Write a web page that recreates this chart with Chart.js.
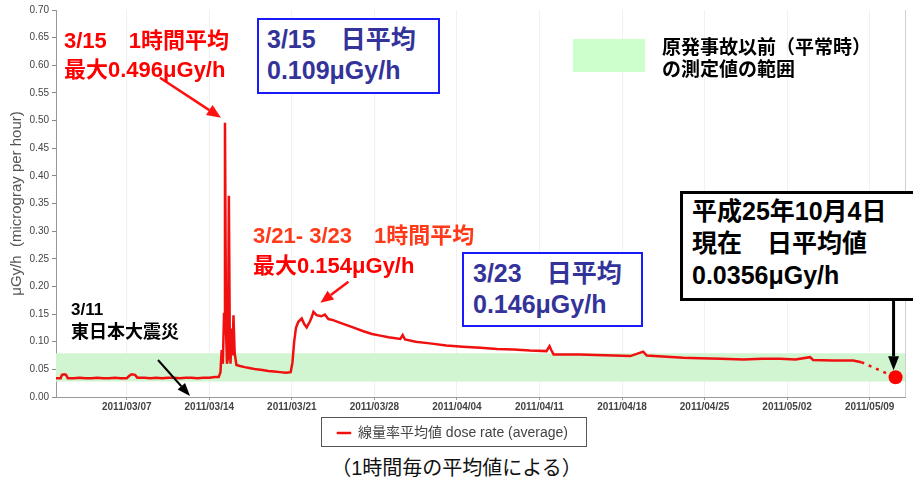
<!DOCTYPE html>
<html><head><meta charset="utf-8">
<script src="https://cdn.jsdelivr.net/npm/chart.js@4/dist/chart.umd.min.js"></script>
<style>
html,body{margin:0;padding:0;background:#fff;overflow:hidden;}
#wrap{position:relative;width:913px;height:488px;overflow:hidden;font-family:'Liberation Sans','Noto Sans CJK JP',sans-serif;}
#c{position:absolute;left:0;top:0;}
.a{position:absolute;white-space:nowrap;font-weight:bold;}
.red{color:#ff0000;font-size:22px;line-height:29px;}
.bbox{box-sizing:border-box;border:2px solid #1a1aff;color:#333399;font-size:25px;line-height:31px;background:#fff;}
.kbox{box-sizing:border-box;border:3px solid #000;border-right:none;color:#000;font-size:25px;line-height:32px;background:#fff;}
</style></head>
<body><div id="wrap">
<canvas id="c" width="913" height="450"></canvas>
<div class="a red" style="left:64px;top:26px;">3/15　1時間平均<br>最大0.496μGy/h</div>
<div class="a bbox" style="left:257px;top:18px;width:183px;height:76px;padding:4px 0 0 8px;">3/15　日平均<br>0.109μGy/h</div>
<div class="a" style="left:573px;top:39px;width:72px;height:33px;background:#ccffcc;"></div>
<div class="a" style="left:662px;top:37px;font-size:19px;line-height:22px;color:#000;">原発事故以前（平常時）<br>の測定値の範囲</div>
<div class="a red" style="left:253px;top:221px;line-height:30px;"><span style="color:#ff3a1a">3/21- 3/23　1時間平均</span><br>最大0.154μGy/h</div>
<div class="a bbox" style="left:462px;top:252px;width:181px;height:75px;padding:4px 0 0 9px;">3/23　日平均<br>0.146μGy/h</div>
<div class="a kbox" style="left:680px;top:191px;width:240px;height:110px;padding:1px 0 0 9px;">平成25年10月4日<br>現在　日平均値<br>0.0356μGy/h</div>
<div class="a" style="left:71px;top:299px;font-size:17px;line-height:22px;color:#000;">3/11<br><span style="font-size:18px">東日本大震災</span></div>
<div class="a" style="left:0;top:455px;width:913px;text-align:center;font-weight:normal;font-size:20px;line-height:26px;color:#111;">（1時間毎の平均値による）</div>
</div>
<script>
// ---- data (days since 2011/03/01 00:00) ----
const days = [0.0,0.4,0.5,0.7,0.85,1.0,1.5,2.0,2.5,3.0,3.5,4.0,4.5,5.0,5.5,6.0,6.2,6.4,6.7,6.9,7.5,8.0,8.5,9.0,9.5,10.0,10.5,11.0,11.5,12.0,12.5,13.0,13.5,13.8,13.95,14.05,14.15,14.25,14.33,14.42,14.5,14.58,14.66,14.74,14.8,14.9,14.97,15.05,15.15,15.3,15.6,16.0,16.5,17.0,17.5,18.0,18.5,19.0,19.5,19.9,20.05,20.2,20.35,20.55,20.84,21.05,21.26,21.54,21.7,21.83,22.1,22.5,22.8,23.1,23.5,24.0,24.65,25.3,26.07,26.8,27.5,28.2,29.2,29.4,29.6,30.5,31.7,33.1,34.5,36.0,37.4,38.8,40.2,41.6,41.85,42.0,42.2,43.3,44.4,45.8,47.3,48.7,49.8,50.1,51.8,53.2,54.6,56.4,58.3,59.9,61.4,62.7,63.95,64.2,65.9,67.6,68.3];
const doseRate = [0.034,0.034,0.040,0.041,0.040,0.034,0.034,0.035,0.034,0.034,0.035,0.034,0.034,0.035,0.034,0.034,0.038,0.041,0.040,0.035,0.035,0.034,0.035,0.034,0.035,0.035,0.034,0.035,0.035,0.034,0.035,0.035,0.036,0.036,0.045,0.085,0.060,0.150,0.496,0.120,0.060,0.070,0.364,0.100,0.060,0.124,0.075,0.148,0.080,0.058,0.056,0.054,0.052,0.050,0.049,0.047,0.046,0.045,0.044,0.045,0.062,0.100,0.125,0.136,0.142,0.132,0.126,0.137,0.145,0.154,0.148,0.146,0.149,0.141,0.139,0.135,0.130,0.125,0.119,0.114,0.111,0.108,0.105,0.112,0.104,0.100,0.097,0.093,0.091,0.089,0.087,0.086,0.084,0.083,0.092,0.085,0.077,0.077,0.077,0.076,0.075,0.074,0.082,0.075,0.073,0.071,0.070,0.069,0.068,0.069,0.069,0.068,0.072,0.067,0.066,0.066,0.063];
const latestDay = 71.2;          // 平成25年10月4日 value shown at right edge
const latestValue = 0.0356;
const normalRange = [0.028, 0.079];
const xRange = [0, 72];
const tickDays = [6,13,20,27,34,41,48,55,62,69];
const tickLabels = ['2011/03/07','2011/03/14','2011/03/21','2011/03/28','2011/04/04','2011/04/11','2011/04/18','2011/04/25','2011/05/02','2011/05/09'];
const peak1 = [14.33, 0.496];
const peak2 = [21.83, 0.154];
const quakeDay = 10.6;

const FONT = "'Liberation Sans','Noto Sans CJK JP',sans-serif";
const doseData = days.map((d,i)=>({x:d,y:doseRate[i]}));
const lastIdx = days.length-1;

function arrow(ctx,x1,y1,x2,y2,color,w,hl,hw){
  const ang=Math.atan2(y2-y1,x2-x1);
  const bx=x2-hl*Math.cos(ang), by=y2-hl*Math.sin(ang);
  ctx.save();
  ctx.strokeStyle=color;ctx.fillStyle=color;ctx.lineWidth=w;
  ctx.beginPath();ctx.moveTo(x1,y1);ctx.lineTo(bx,by);ctx.stroke();
  ctx.beginPath();ctx.moveTo(x2,y2);
  ctx.lineTo(bx+hw/2*Math.sin(ang),by-hw/2*Math.cos(ang));
  ctx.lineTo(bx-hw/2*Math.sin(ang),by+hw/2*Math.cos(ang));
  ctx.closePath();ctx.fill();
  ctx.restore();
}

const decor = {
  id:'decor',
  afterDatasetsDraw(chart){
    const {ctx,scales:{x,y},chartArea:a}=chart;
    ctx.save();
    ctx.strokeStyle='#cfcfcf';ctx.lineWidth=1;
    ctx.beginPath();ctx.moveTo(a.right+0.5,a.top);ctx.lineTo(a.right+0.5,a.bottom);ctx.stroke();
    ctx.restore();
    const p1x=x.getPixelForValue(peak1[0]), p1y=y.getPixelForValue(peak1[1]);
    arrow(ctx,p1x-65,p1y-45,p1x-4,p1y-5,'#ff1010',2.5,14,12);
    const p2x=x.getPixelForValue(peak2[0]), p2y=y.getPixelForValue(peak2[1]);
    arrow(ctx,p2x+35,p2y-30,p2x+7,p2y-9,'#ff1010',2.5,13,11);
    const qx=x.getPixelForValue(quakeDay), qy=y.getPixelForValue(0);
    arrow(ctx,qx-23,qy-37,qx+9,qy-1,'#000',2,13,10);
    const lx=x.getPixelForValue(latestDay), ly=y.getPixelForValue(latestValue);
    arrow(ctx,lx-2,ly-79,lx-2,ly-7,'#000',3,14,11);
  },
  afterDraw(chart){
    const lg=chart.legend; if(!lg||!lg.legendHitBoxes.length) return;
    const hb=lg.legendHitBoxes[0];
    const ctx=chart.ctx;
    ctx.save();ctx.strokeStyle='#555';ctx.lineWidth=1;
    ctx.strokeRect(Math.round(hb.left-16)+0.5, Math.round(lg.top+1)+0.5, Math.round(hb.width+34), 29);
    ctx.restore();
  }
};

new Chart(document.getElementById('c'),{
  type:'line',
  data:{datasets:[
    {label:'線量率平均値 dose rate (average)',data:doseData,borderColor:'#f01010',backgroundColor:'#f01010',borderWidth:2.5,pointRadius:0,tension:0,fill:false},
    {label:'latest',data:[{x:days[lastIdx],y:doseRate[lastIdx]},{x:latestDay,y:latestValue}],borderColor:'#f01010',borderWidth:2.5,borderDash:[3,5],pointRadius:[0,7],pointBackgroundColor:'#ff0000',pointBorderWidth:0,fill:false},
    {label:'low',data:[{x:xRange[0],y:normalRange[0]},{x:xRange[1],y:normalRange[0]}],borderWidth:0,pointRadius:0,fill:false},
    {label:'high',data:[{x:xRange[0],y:normalRange[1]},{x:xRange[1],y:normalRange[1]}],borderWidth:0,pointRadius:0,fill:'-1',backgroundColor:'#d0f5d0'}
  ]},
  options:{
    responsive:false,animation:false,devicePixelRatio:1,
    layout:{padding:{top:10,right:8,left:0,bottom:0}},
    plugins:{
      tooltip:{enabled:false},
      legend:{position:'bottom',
        labels:{boxWidth:14,boxHeight:2,padding:10,color:'#444',font:{family:FONT,size:14},
          filter:(it)=>it.datasetIndex===0,
          generateLabels:(ch)=>Chart.defaults.plugins.legend.labels.generateLabels(ch).map(l=>Object.assign(l,{lineWidth:0.5}))}
      }
    },
    scales:{
      x:{type:'linear',min:xRange[0],max:xRange[1],
        afterBuildTicks:(s)=>{s.ticks=tickDays.map(v=>({value:v}));},
        afterFit:(s)=>{s.height=19;},
        ticks:{autoSkip:false,maxRotation:0,padding:1,color:'#444',font:{family:FONT,size:10,weight:'bold'},
          callback:(v)=>{const i=tickDays.indexOf(v);return i>=0?tickLabels[i]:'';}},
        grid:{color:'#f1f1f1',tickColor:'#999',tickLength:3},
        border:{color:'#999'}
      },
      y:{min:0,max:0.7,
        afterFit:(s)=>{s.width=56;},
        ticks:{stepSize:0.05,padding:3,color:'#444',font:{family:FONT,size:10},callback:(v)=>Number(v).toFixed(2)},
        grid:{drawOnChartArea:false,tickColor:'#888',tickLength:4},
        border:{color:'#999'},
        title:{display:true,text:'μGy/h  (microgray per hour)',color:'#555',font:{family:FONT,size:15},padding:{top:8,bottom:0}}
      }
    }
  },
  plugins:[decor]
});
</script>
</body></html>
